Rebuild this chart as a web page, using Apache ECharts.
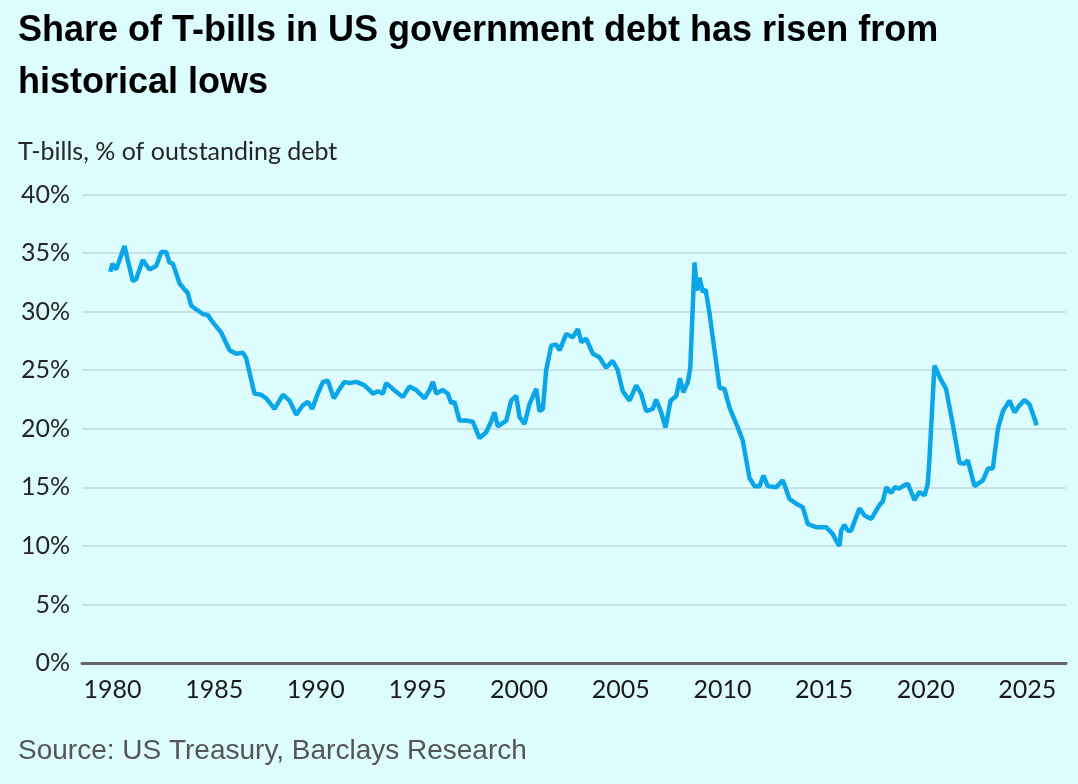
<!DOCTYPE html>
<html>
<head>
<meta charset="utf-8">
<title>Share of T-bills in US government debt</title>
<script src="https://cdn.jsdelivr.net/npm/echarts@6/dist/echarts.min.js"></script>
<style>
  html, body { margin: 0; padding: 0; background: #dcfcfd; }
  #chart { width: 1078px; height: 784px; }
</style>
</head>
<body>
<div id="chart"></div>
<script>
// T-bills share of outstanding debt (year, %)
var years = [
  1979.89, 1980.0, 1980.18, 1980.59, 1980.75, 1981.0, 1981.17, 1981.49, 1981.82, 1982.15,
  1982.4, 1982.64, 1982.8, 1982.97, 1983.3, 1983.54, 1983.7, 1983.87, 1984.12, 1984.44,
  1984.69, 1984.93, 1985.35, 1985.76, 1986.08, 1986.41, 1986.58, 1986.98, 1987.31, 1987.56,
  1987.97, 1988.38, 1988.71, 1989.04, 1989.36, 1989.61, 1989.82, 1990.1, 1990.35, 1990.59,
  1990.89, 1991.17, 1991.41, 1991.66, 1991.99, 1992.4, 1992.81, 1993.05, 1993.3, 1993.46,
  1993.79, 1994.28, 1994.61, 1994.94, 1995.35, 1995.59, 1995.76, 1995.92, 1996.25, 1996.49,
  1996.66, 1996.82, 1997.07, 1997.4, 1997.72, 1998.05, 1998.38, 1998.62, 1998.79, 1998.95,
  1999.37, 1999.61, 1999.86, 2000.02, 2000.27, 2000.51, 2000.84, 2001.0,
  2001.17, 2001.33, 2001.58, 2001.82, 2001.99, 2002.32, 2002.64, 2002.89, 2003.06, 2003.3,
  2003.63, 2003.95, 2004.28, 2004.6, 2004.85, 2005.1, 2005.43, 2005.76, 2006.0, 2006.25,
  2006.58, 2006.74, 2006.99, 2007.2, 2007.45, 2007.73, 2007.91, 2008.08, 2008.3, 2008.42,
  2008.63, 2008.75, 2008.87, 2009.04, 2009.17, 2009.37, 2009.86, 2010.1, 2010.35, 2010.76,
  2011.0, 2011.33, 2011.58, 2011.83, 2012.02, 2012.23, 2012.65, 2012.97, 2013.3, 2013.63,
  2013.95, 2014.2, 2014.61, 2015.1, 2015.43, 2015.64, 2015.76, 2015.84, 2016.0, 2016.17,
  2016.33, 2016.74, 2016.99, 2017.32, 2017.73, 2017.89, 2018.06, 2018.3, 2018.47, 2018.71,
  2018.87, 2019.12, 2019.45, 2019.69, 2019.94, 2020.1, 2020.18, 2020.43, 2020.68, 2021.0,
  2021.33, 2021.66, 2021.9, 2022.07, 2022.4, 2022.81, 2023.06, 2023.3, 2023.55, 2023.8,
  2024.12, 2024.37, 2024.61, 2024.86, 2025.1, 2025.27, 2025.46
];
var shares = [
  33.4, 34.1, 33.6, 35.6, 34.4, 32.6, 32.8, 34.4, 33.6, 33.9,
  35.1, 35.1, 34.2, 34.1, 32.4, 31.9, 31.6, 30.5, 30.2, 29.8,
  29.7, 29.1, 28.2, 26.7, 26.4, 26.5, 26.0, 23.0, 22.9, 22.6,
  21.7, 22.9, 22.4, 21.2, 22.0, 22.3, 21.7, 23.0, 24.0, 24.1,
  22.6, 23.4, 24.0, 23.9, 24.0, 23.7, 23.0, 23.2, 23.0, 23.9,
  23.4, 22.7, 23.6, 23.3, 22.6, 23.3, 24.0, 23.0, 23.3, 23.0,
  22.2, 22.3, 20.7, 20.7, 20.6, 19.2, 19.7, 20.6, 21.4, 20.2,
  20.7, 22.4, 22.8, 21.0, 20.4, 22.1, 23.4, 21.5,
  21.7, 25.0, 27.1, 27.2, 26.7, 28.1, 27.8, 28.5, 27.4, 27.7,
  26.4, 26.1, 25.2, 25.8, 25.0, 23.2, 22.4, 23.7, 23.0, 21.5,
  21.7, 22.5, 21.4, 20.1, 22.4, 22.8, 24.3, 23.1, 24.0, 25.2,
  34.2, 31.8, 32.9, 31.65, 31.9, 29.8, 23.5, 23.4, 21.8, 20.1,
  19.0, 15.8, 15.1, 15.1, 16.0, 15.1, 15.0, 15.6, 14.0, 13.6,
  13.3, 11.85, 11.6, 11.6, 11.0, 10.3, 10.0, 11.3, 11.8, 11.3,
  11.3, 13.2, 12.6, 12.3, 13.5, 13.8, 15.0, 14.5, 15.0, 14.9,
  15.1, 15.3, 13.9, 14.6, 14.3, 15.3, 17.3, 25.4, 24.4, 23.4,
  20.4, 17.1, 17.0, 17.3, 15.1, 15.6, 16.6, 16.6, 20.0, 21.5,
  22.4, 21.4, 22.0, 22.45, 22.1, 21.25, 20.3
];
var yearTicks = [1980, 1985, 1990, 1995, 2000, 2005, 2010, 2015, 2020, 2025];

var seriesData = [];
for (var i = 0; i < years.length; i++) {
    seriesData.push([years[i], shares[i]]);
}

var myChart = echarts.init(document.getElementById('chart'));
var option = {
    backgroundColor: '#dcfcfd',
    animation: false,
    title: [
        {
            text: 'Share of T-bills in US government debt has risen from\nhistorical lows',
            left: 18,
            top: 5,
            padding: 0,
            textStyle: {
                fontFamily: 'Liberation Sans',
                fontWeight: 'bold',
                fontSize: 36,
                lineHeight: 52,
                color: '#000'
            }
        },
        {
            text: 'T-bills, % of outstanding debt',
            left: 18,
            top: 137,
            padding: 0,
            textStyle: {
                fontFamily: 'Lato',
                fontWeight: 'normal',
                fontSize: 25,
                lineHeight: 30,
                color: '#262626'
            }
        },
        {
            text: 'Source: US Treasury, Barclays Research',
            left: 18,
            top: 736,
            padding: 0,
            textStyle: {
                fontFamily: 'Liberation Sans',
                fontWeight: 'normal',
                fontSize: 28,
                lineHeight: 30,
                color: '#555'
            }
        }
    ],
    grid: {
        left: 82,
        right: 12,
        top: 194.5,
        bottom: 121,
        containLabel: false
    },
    xAxis: {
        type: 'value',
        min: 1978.5,
        max: 2026.9,
        splitLine: { show: false },
        axisTick: { show: false },
        axisLine: {
            show: true,
            lineStyle: { color: '#666', width: 3 }
        },
        axisLabel: {
            customValues: yearTicks,
            formatter: function (v) { return String(v); },
            margin: 14,
            fontFamily: 'Lato',
            fontSize: 25,
            color: '#1a1a1a'
        }
    },
    yAxis: {
        type: 'value',
        min: 0,
        max: 40,
        interval: 5,
        axisLine: { show: false },
        axisTick: { show: false },
        splitLine: {
            lineStyle: { color: '#c6e2e4', width: 2 }
        },
        axisLabel: {
            formatter: '{value}%',
            margin: 12,
            fontFamily: 'Lato',
            fontSize: 25,
            color: '#262626'
        }
    },
    series: [
        {
            type: 'line',
            data: seriesData,
            showSymbol: false,
            lineStyle: { color: '#0ba6e8', width: 4.5 },
            z: 5
        }
    ]
};
myChart.setOption(option);
</script>
</body>
</html>
